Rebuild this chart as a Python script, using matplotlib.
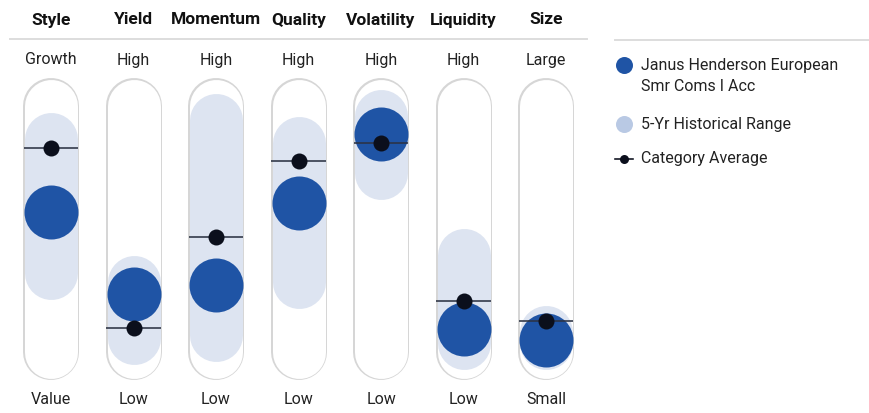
import matplotlib
matplotlib.use("Agg")
import matplotlib.pyplot as plt
from matplotlib import font_manager as fm

# ---------------- data ----------------
factors = ["Style", "Yield", "Momentum", "Quality", "Volatility", "Liquidity", "Size"]
top_labels = ["Growth", "High", "High", "High", "High", "High", "Large"]
bottom_labels = ["Value", "Low", "Low", "Low", "Low", "Low", "Small"]
range_low = [32.1, 5.7, 6.9, 28.5, 72.8, 3.7, 3.7]
range_high = [86.6, 28.5, 94.3, 85.0, 95.9, 39.4, 8.1]
fund_values = [56.9, 23.6, 27.2, 60.6, 88.6, 9.3, 4.9]
category_avg = [82.9, 9.8, 46.7, 77.6, 85.0, 20.7, 12.6]
fund_name = "Janus Henderson European\nSmr Coms I Acc"
legend_labels = [fund_name, "5-Yr Historical Range", "Category Average"]

# ---------------- style ----------------
W, H, DPI = 869, 413, 100
PX = 72.0 / DPI  # points per pixel
avail = {f.name for f in fm.fontManager.ttflist}
narrow = "Liberation Sans Narrow" if "Liberation Sans Narrow" in avail else "Roboto"
FAM = [narrow, "DejaVu Sans"]

C_FUND = "#1f54a5"
C_BAND = "#dde4f1"
C_BAND_LEG = "#b9c9e4"
C_AVG = "#0b0f1c"
C_TRACK = "#d6d6d6"
C_TEXT = "#222222"

fig = plt.figure(figsize=(W / DPI, H / DPI), dpi=DPI)
fig.patch.set_facecolor("white")

# axes: x = factor index, y = score 0..100 (circle-centre range of track)
x0, x1 = 9.75, 587.25
ytop, ybot = 106, 352
ax = fig.add_axes([x0 / W, (H - ybot) / H, (x1 - x0) / W, (ybot - ytop) / H])
ax.set_xlim(-0.5, len(factors) - 0.5)
ax.set_ylim(0, 100)
ax.axis("off")

track_w = 56 * PX
band_w = 53 * PX
for i in range(len(factors)):
    ax.plot([i, i], [0, 100], color=C_TRACK, lw=track_w, solid_capstyle="round",
            clip_on=False, zorder=1)
    ax.plot([i, i], [0, 100], color="white", lw=track_w - 3 * PX, solid_capstyle="round",
            clip_on=False, zorder=2)
    ax.plot([i, i], [range_low[i], range_high[i]], color=C_BAND, lw=band_w,
            solid_capstyle="round", clip_on=False, zorder=3)
    ax.plot([i], [fund_values[i]], marker="o", ms=54 * PX, color=C_FUND, mew=0,
            clip_on=False, zorder=4)
    ax.plot([i - 0.33, i + 0.33], [category_avg[i]] * 2, color="#2c3344", lw=1.6 * PX * 1.0,
            clip_on=False, zorder=5, solid_capstyle="butt")
    ax.plot([i], [category_avg[i]], marker="o", ms=16 * PX, color=C_AVG, mew=0,
            clip_on=False, zorder=6)

# text via pixel helper transforms
def fx(px):
    return px / W

def fy(py):
    return 1 - py / H

col_px = [51 + 82.5 * i for i in range(len(factors))]
for i, name in enumerate(factors):
    fig.text(fx(col_px[i]), fy(20), name, ha="center", va="center", fontsize=12.5,
             fontweight="bold", family=FAM, color="#111111")
    fig.text(fx(col_px[i]), fy(60), top_labels[i], ha="center", va="center", fontsize=11.5,
             family=FAM, color=C_TEXT)
    fig.text(fx(col_px[i]), fy(400), bottom_labels[i], ha="center", va="center", fontsize=11.5,
             family=FAM, color=C_TEXT)

# header separator lines
fig.add_artist(plt.Line2D([fx(10), fx(587)], [fy(38.5), fy(38.5)], color="#dddddd", lw=1.5 * PX * 1.3))
fig.add_artist(plt.Line2D([fx(615), fx(869)], [fy(39.5), fy(39.5)], color="#dddddd", lw=1.5 * PX * 1.3))

# legend
lx = 624
fig.add_artist(plt.Line2D([fx(lx)], [fy(65)], marker="o", ms=17 * PX, color=C_FUND, mew=0))
fig.text(fx(641), fy(76), legend_labels[0], ha="left", va="center", fontsize=11.5,
         family=FAM, color=C_TEXT, linespacing=1.55)
fig.add_artist(plt.Line2D([fx(lx)], [fy(124)], marker="o", ms=17 * PX, color=C_BAND_LEG, mew=0))
fig.text(fx(641), fy(124), legend_labels[1], ha="left", va="center", fontsize=11.5,
         family=FAM, color=C_TEXT)
fig.add_artist(plt.Line2D([fx(615), fx(633)], [fy(159), fy(159)], color=C_AVG, lw=1.6 * PX))
fig.add_artist(plt.Line2D([fx(lx)], [fy(159)], marker="o", ms=9 * PX, color=C_AVG, mew=0))
fig.text(fx(641), fy(159), legend_labels[2], ha="left", va="center", fontsize=11.5,
         family=FAM, color=C_TEXT)

fig.savefig("out.png", dpi=DPI, facecolor="white")
